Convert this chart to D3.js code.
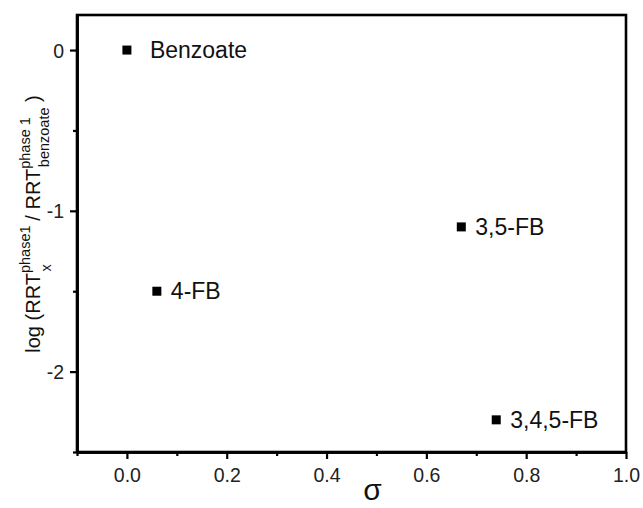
<!DOCTYPE html>
<html><head><meta charset="utf-8">
<script src="https://cdn.jsdelivr.net/npm/d3@7"></script>
<style>body{margin:0;background:#fff}svg{display:block}text{font-family:"Liberation Sans",Arial,sans-serif}</style>
</head><body>
<svg id="c" width="643" height="508"></svg>
<script>
const names = ["Benzoate", "4-FB", "3,5-FB", "3,4,5-FB"];
const sigma = [0.0, 0.06, 0.67, 0.74];
const logRRT = [0.0, -1.50, -1.10, -2.30];
const xTicks = [0.0, 0.2, 0.4, 0.6, 0.8, 1.0];
const xMinor = [-0.1, 0.1, 0.3, 0.5, 0.7, 0.9];
const yTicks = [0, -1, -2];
const yTickLabels = ["0", "-1", "-2"];
const yMinor = [-0.5, -1.5, -2.5];

const svg = d3.select("#c");
const L = 77, R = 626, T = 15, B = 452;
const x = d3.scaleLinear().domain([-0.1, 1.0]).range([L, R]);
const y = d3.scaleLinear().domain([-2.5, 0.218]).range([B, T]);

const xa = svg.append("g").attr("transform", `translate(0,${B})`)
  .call(d3.axisBottom(x).tickValues(xTicks).tickFormat(d3.format(".1f")).tickSize(7).tickSizeOuter(0));
const xm = svg.append("g").attr("transform", `translate(0,${B})`)
  .call(d3.axisBottom(x).tickValues(xMinor).tickFormat("").tickSize(4).tickSizeOuter(0));
const ya = svg.append("g").attr("transform", `translate(${L},0)`)
  .call(d3.axisLeft(y).tickValues(yTicks).tickFormat((d, i) => yTickLabels[i]).tickSize(7).tickSizeOuter(0));
const ym = svg.append("g").attr("transform", `translate(${L},0)`)
  .call(d3.axisLeft(y).tickValues(yMinor).tickFormat("").tickSize(4).tickSizeOuter(0));
[xa, xm, ya, ym].forEach(g => {
  g.select(".domain").attr("stroke", "#000").attr("stroke-width", 2.6);
  g.selectAll(".tick line").attr("stroke", "#000").attr("stroke-width", 2.2);
  g.selectAll("text").attr("font-size", 19.5).attr("font-family", '"Liberation Sans",Arial,sans-serif').attr("fill", "#222");
});
xa.selectAll("text").attr("dy", "1.05em");
ya.selectAll("text").attr("dx", "-0.15em").attr("dy", "0.36em");

// frame
svg.append("rect").attr("x", L).attr("y", T).attr("width", R - L).attr("height", B - T)
  .attr("fill", "none").attr("stroke", "#000").attr("stroke-width", 2.6);

// points
const pts = names.map((n, i) => ({n, s: sigma[i], v: logRRT[i]}));
svg.append("g").selectAll("rect").data(pts).join("rect")
  .attr("x", d => x(d.s) - 4.5).attr("y", d => y(d.v) - 4.5)
  .attr("width", 9).attr("height", 9).attr("fill", "#000");
svg.append("g").selectAll("text").data(pts).join("text")
  .attr("x", d => x(d.s) + (d.n === "Benzoate" ? 23 : 14)).attr("y", d => y(d.v) + 8)
  .attr("font-size", 23).attr("fill", "#111").text(d => d.n);

// x label
svg.append("text").attr("x", (x(0.4) + x(0.6)) / 2 - 4).attr("y", 500).attr("text-anchor", "middle")
  .attr("font-family", '"Liberation Serif","Times New Roman",serif').attr("font-size", 30).attr("fill", "#111").text("σ");

// y label
const yl = svg.append("text").attr("transform", `translate(40,224) rotate(-90)`)
  .attr("text-anchor", "middle").attr("font-size", 20).attr("fill", "#111");
yl.append("tspan").text("log (RRT");
yl.append("tspan").attr("font-size", 14.5).attr("dy", -10).text("phase1");
yl.append("tspan").attr("font-size", 14.5).attr("dx", -46).attr("dy", 21).text("x");
yl.append("tspan").attr("dx", 38).attr("dy", -11).text(" / RRT");
yl.append("tspan").attr("font-size", 14.5).attr("dy", -10).text("phase 1");
yl.append("tspan").attr("font-size", 14.5).attr("dx", -50).attr("dy", 19).text("benzoate");
yl.append("tspan").attr("dy", -9).text(" )");
</script>
</body></html>
